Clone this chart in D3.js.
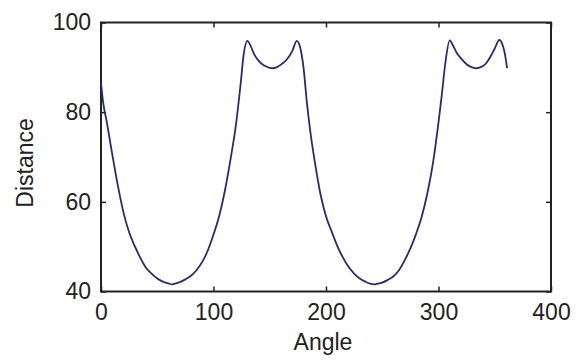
<!DOCTYPE html>
<html>
<head>
<meta charset="utf-8">
<script src="https://cdn.jsdelivr.net/npm/d3@7"></script>
<style>
  body { margin: 0; background: #fff; }
  svg { display: block; font-family: "Liberation Sans", Arial, sans-serif; }
  .tick text { font-size: 23px; fill: #222; }
  .label { font-size: 23px; fill: #222; }
</style>
</head>
<body>
<script>

// values
const angles = [0,2,5,10,15,20,25,30,35,40,45,50,55,60,63,65,70,75,80,85,90,95,100,105,110,115,120,124,127,130,133,136,140,145,150,153,156,160,165,170,174,177,180,183,186,190,195,200,205,210,215,220,225,230,235,240,243,245,250,255,260,265,270,275,280,285,290,295,300,303,306,310,313,316,320,325,330,334,338,342,346,350,354,357,359,361];
const distances = [86.5,82,78,70.6,63.6,57.6,53.2,50.1,47.5,45.3,44,42.9,42.2,41.8,41.6,41.7,42.1,42.7,43.5,44.8,46.6,49.2,52.7,56.8,62.3,69.3,77.3,86,93.2,95.9,94.8,93,91.5,90.4,89.9,89.8,90,90.6,91.7,93.6,95.9,94.5,90,82.2,75.8,69,61.8,56.8,53.4,50.2,47.6,45.5,44,42.9,42.2,41.7,41.6,41.7,42,42.6,43.4,44.8,47,49.6,52.8,56.6,61.8,68.5,77.7,84,90.8,96,94.8,93.3,92,90.7,90,89.8,90.1,90.8,92.3,94.2,96.1,95,93,89.8];
const xTicks = [0, 100, 200, 300, 400];
const yTicks = [40, 60, 80, 100];

const data = angles.map((a, i) => ({angle: a, dist: distances[i]}));

const margin = {top: 22.5, right: 26, bottom: 69.5, left: 101},
    width = 577 - margin.left - margin.right,
    height = 361 - margin.top - margin.bottom;

let svg = d3.select('body').append('svg')
    .attr('width', 577)
    .attr('height', 361);

let graph = svg.append('g')
    .attr('transform', 'translate(' + margin.left + ',' + margin.top + ')');

let x = d3.scaleLinear().domain([0, 400]).range([0, width]);
let y = d3.scaleLinear().domain([40, 100]).range([height, 0]);

// ticks on all four sides, pointing inward
graph.append('g')
    .attr('transform', 'translate(0,' + height + ')')
    .call(d3.axisBottom(x).tickValues(xTicks).tickSizeInner(-5).tickSizeOuter(0).tickPadding(12));
graph.append('g')
    .call(d3.axisTop(x).tickValues(xTicks).tickSizeInner(-5).tickSizeOuter(0).tickFormat(''));
graph.append('g')
    .call(d3.axisLeft(y).tickValues(yTicks).tickSizeInner(-5).tickSizeOuter(0).tickPadding(10));
graph.append('g')
    .attr('transform', 'translate(' + width + ',0)')
    .call(d3.axisRight(y).tickValues(yTicks).tickSizeInner(-5).tickSizeOuter(0).tickFormat(''));

graph.selectAll('.domain').remove();
graph.selectAll('.tick line').attr('stroke', '#222').attr('stroke-width', 1.5);

graph.append('rect')
    .attr('x', 0)
    .attr('y', 0)
    .attr('width', width)
    .attr('height', height)
    .attr('fill', 'none')
    .attr('stroke', '#222')
    .attr('stroke-width', 2);

let line = d3.line()
    .curve(d3.curveMonotoneX)
    .x(d => x(d.angle))
    .y(d => y(d.dist));

graph.append('path')
    .datum(data)
    .attr('d', line)
    .attr('fill', 'none')
    .attr('stroke', '#2a2a72')
    .attr('stroke-width', 1.8)
    .attr('stroke-linejoin', 'round');

svg.append('text')
    .attr('class', 'label')
    .attr('x', margin.left + width / 2 - 3)
    .attr('y', 350)
    .attr('text-anchor', 'middle')
    .text('Angle');

svg.append('text')
    .attr('class', 'label')
    .attr('transform', 'translate(33,163) rotate(-90)')
    .attr('text-anchor', 'middle')
    .text('Distance');

</script>
</body>
</html>
